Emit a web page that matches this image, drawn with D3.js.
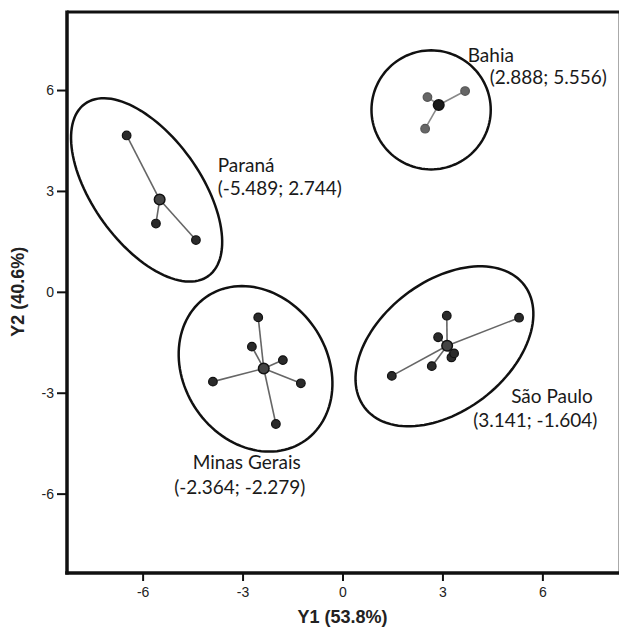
<!DOCTYPE html>
<html>
<head>
<meta charset="utf-8">
<script src="https://cdn.jsdelivr.net/npm/d3@7"></script>
<style>
  html, body { margin: 0; padding: 0; background: #fff; }
  svg { display: block; }
</style>
</head>
<body>
<div id="chart"></div>
<script>
// group centroids (canonical discriminant scores)
const groups = ["Paraná", "Bahia", "Minas Gerais", "São Paulo"];
const centroidY1 = [-5.489, 2.888, -2.364, 3.141];
const centroidY2 = [2.744, 5.556, -2.279, -1.604];

// individual samples
const sampleGroup = [
    "Paraná", "Paraná", "Paraná",
    "Bahia", "Bahia", "Bahia",
    "Minas Gerais", "Minas Gerais", "Minas Gerais", "Minas Gerais", "Minas Gerais", "Minas Gerais",
    "São Paulo", "São Paulo", "São Paulo", "São Paulo", "São Paulo", "São Paulo", "São Paulo"
];
const sampleY1 = [-6.48, -5.60, -4.40, 2.55, 3.68, 2.48, -2.53, -2.72, -1.79, -1.25, -3.89, -2.00, 3.13, 5.30, 2.87, 3.27, 3.35, 2.68, 1.48];
const sampleY2 = [4.65, 2.03, 1.54, 5.79, 5.97, 4.85, -0.76, -1.63, -2.03, -2.72, -2.67, -3.93, -0.71, -0.77, -1.35, -1.95, -1.83, -2.21, -2.50];

// confidence ellipses: centre, semi-axes, rotation (degrees)
const ellipseCx = [-5.88, 2.66, -2.61, 3.06];
const ellipseCy = [3.03, 5.41, -2.29, -1.62];
const ellipseA = [3.16, 1.79, 2.60, 3.01];
const ellipseB = [1.61, 1.77, 2.15, 1.93];
const ellipseAngle = [-54, 0, -55, 37];

const xTicks = [-6, -3, 0, 3, 6];
const yTicks = [-6, -3, 0, 3, 6];

// label placement, pixel offsets from centroid
const labelLayout = [
    { l1: [58, -28, "start"], l2: [58, -5, "start"] },
    { l1: [29, -43, "start"], l2: [51, -21, "start"] },
    { l1: [-17, 101, "middle"], l2: [-24, 126, "middle"] },
    { l1: [64, 57, "start"], l2: [26, 81, "start"] }
];

const width = 620, height = 634;
const margin = { top: 12, right: 1, bottom: 61, left: 67 };

const svg = d3.select('#chart').append('svg')
    .attr('width', width)
    .attr('height', height);

const x = d3.scaleLinear().domain([-8.27, 8.3]).range([margin.left, width - margin.right]);
const y = d3.scaleLinear().domain([-8.36, 8.32]).range([height - margin.bottom, margin.top]);

// frame
svg.append('line')
    .attr('x1', width - margin.right - 0.5).attr('x2', width - margin.right - 0.5)
    .attr('y1', margin.top).attr('y2', height - margin.bottom)
    .attr('stroke', '#aaa').attr('stroke-width', 1);
svg.append('line')
    .attr('x1', margin.left).attr('x2', width - margin.right)
    .attr('y1', margin.top).attr('y2', margin.top)
    .attr('stroke', '#111').attr('stroke-width', 3);

// axes
const xAxis = svg.append('g')
    .attr('transform', `translate(0,${height - margin.bottom})`)
    .call(d3.axisBottom(x).tickValues(xTicks).tickFormat(d => String(d))
        .tickSize(8).tickPadding(6).tickSizeOuter(0));
const yAxis = svg.append('g')
    .attr('transform', `translate(${margin.left},0)`)
    .call(d3.axisLeft(y).tickValues(yTicks).tickFormat(d => String(d))
        .tickSize(10).tickPadding(3).tickSizeOuter(0));

[xAxis, yAxis].forEach(ax => {
    ax.select('.domain').attr('stroke', '#111').attr('stroke-width', 3.5);
    ax.selectAll('.tick line').attr('stroke', '#111').attr('stroke-width', 2);
    ax.selectAll('.tick text')
        .style('font-family', 'Arial, "Liberation Sans", sans-serif')
        .style('font-size', '14px')
        .attr('fill', '#222');
});
// close the corners
xAxis.select('.domain').attr('d', `M${margin.left - 1.75},0H${width - margin.right}`);
yAxis.select('.domain').attr('d', `M0,${height - margin.bottom + 1.5}V${margin.top - 1.5}`);

// axis titles
svg.append('text')
    .attr('x', x(0))
    .attr('y', 623)
    .attr('text-anchor', 'middle')
    .style('font-family', 'Arial, "Liberation Sans", sans-serif')
    .style('font-weight', 'bold')
    .style('font-size', '18px')
    .attr('fill', '#222')
    .text('Y1 (53.8%)');

svg.append('text')
    .attr('transform', `translate(24,${y(0)}) rotate(-90)`)
    .attr('text-anchor', 'middle')
    .style('font-family', 'Arial, "Liberation Sans", sans-serif')
    .style('font-weight', 'bold')
    .style('font-size', '18px')
    .attr('fill', '#222')
    .text('Y2 (40.6%)');

// ellipses
const ellipseLine = d3.line().x(d => x(d[0])).y(d => y(d[1])).curve(d3.curveLinearClosed);
const ellipses = groups.map((g, i) => {
    const phi = ellipseAngle[i] * Math.PI / 180;
    return d3.range(0, 360, 3).map(deg => {
        const t = deg * Math.PI / 180;
        const ex = ellipseA[i] * Math.cos(t), ey = ellipseB[i] * Math.sin(t);
        return [ellipseCx[i] + ex * Math.cos(phi) - ey * Math.sin(phi),
                ellipseCy[i] + ex * Math.sin(phi) + ey * Math.cos(phi)];
    });
});
svg.selectAll('.ellipse')
    .data(ellipses)
    .enter()
    .append('path')
    .attr('class', 'ellipse')
    .attr('d', ellipseLine)
    .attr('fill', 'none')
    .attr('stroke', '#111')
    .attr('stroke-width', 2.5);

// samples joined to centroid
const samples = sampleGroup.map((g, i) => {
    const gi = groups.indexOf(g);
    return { g: gi, x: sampleY1[i], y: sampleY2[i], cx: centroidY1[gi], cy: centroidY2[gi] };
});

svg.selectAll('.spoke')
    .data(samples)
    .enter()
    .append('line')
    .attr('class', 'spoke')
    .attr('x1', d => x(d.cx)).attr('y1', d => y(d.cy))
    .attr('x2', d => x(d.x)).attr('y2', d => y(d.y))
    .attr('stroke', d => d.g === 1 ? '#888' : '#666')
    .attr('stroke-width', 1.6);

svg.selectAll('.sample')
    .data(samples)
    .enter()
    .append('circle')
    .attr('class', 'sample')
    .attr('cx', d => x(d.x))
    .attr('cy', d => y(d.y))
    .attr('r', 4.3)
    .attr('fill', d => d.g === 1 ? '#666' : '#2a2a2a')
    .attr('stroke', d => d.g === 1 ? '#555' : '#111')
    .attr('stroke-width', 1.2);

svg.selectAll('.centroid')
    .data(groups)
    .enter()
    .append('circle')
    .attr('class', 'centroid')
    .attr('cx', (d, i) => x(centroidY1[i]))
    .attr('cy', (d, i) => y(centroidY2[i]))
    .attr('r', 5.3)
    .attr('fill', (d, i) => i === 1 ? '#1a1a1a' : '#444')
    .attr('stroke', '#111')
    .attr('stroke-width', 1.5);

// labels
const fmt = v => v.toFixed(3);
groups.forEach((g, i) => {
    const px = x(centroidY1[i]), py = y(centroidY2[i]);
    const lay = labelLayout[i];
    const lines = [[g, lay.l1], [`(${fmt(centroidY1[i])}; ${fmt(centroidY2[i])})`, lay.l2]];
    lines.forEach(([txt, p]) => {
        svg.append('text')
            .attr('x', px + p[0])
            .attr('y', py + p[1])
            .attr('text-anchor', p[2])
            .style('font-family', 'Lato, "Open Sans", sans-serif')
            .style('font-size', '19px')
            .attr('fill', '#1a1a1a')
            .text(txt);
    });
});
</script>
</body>
</html>
